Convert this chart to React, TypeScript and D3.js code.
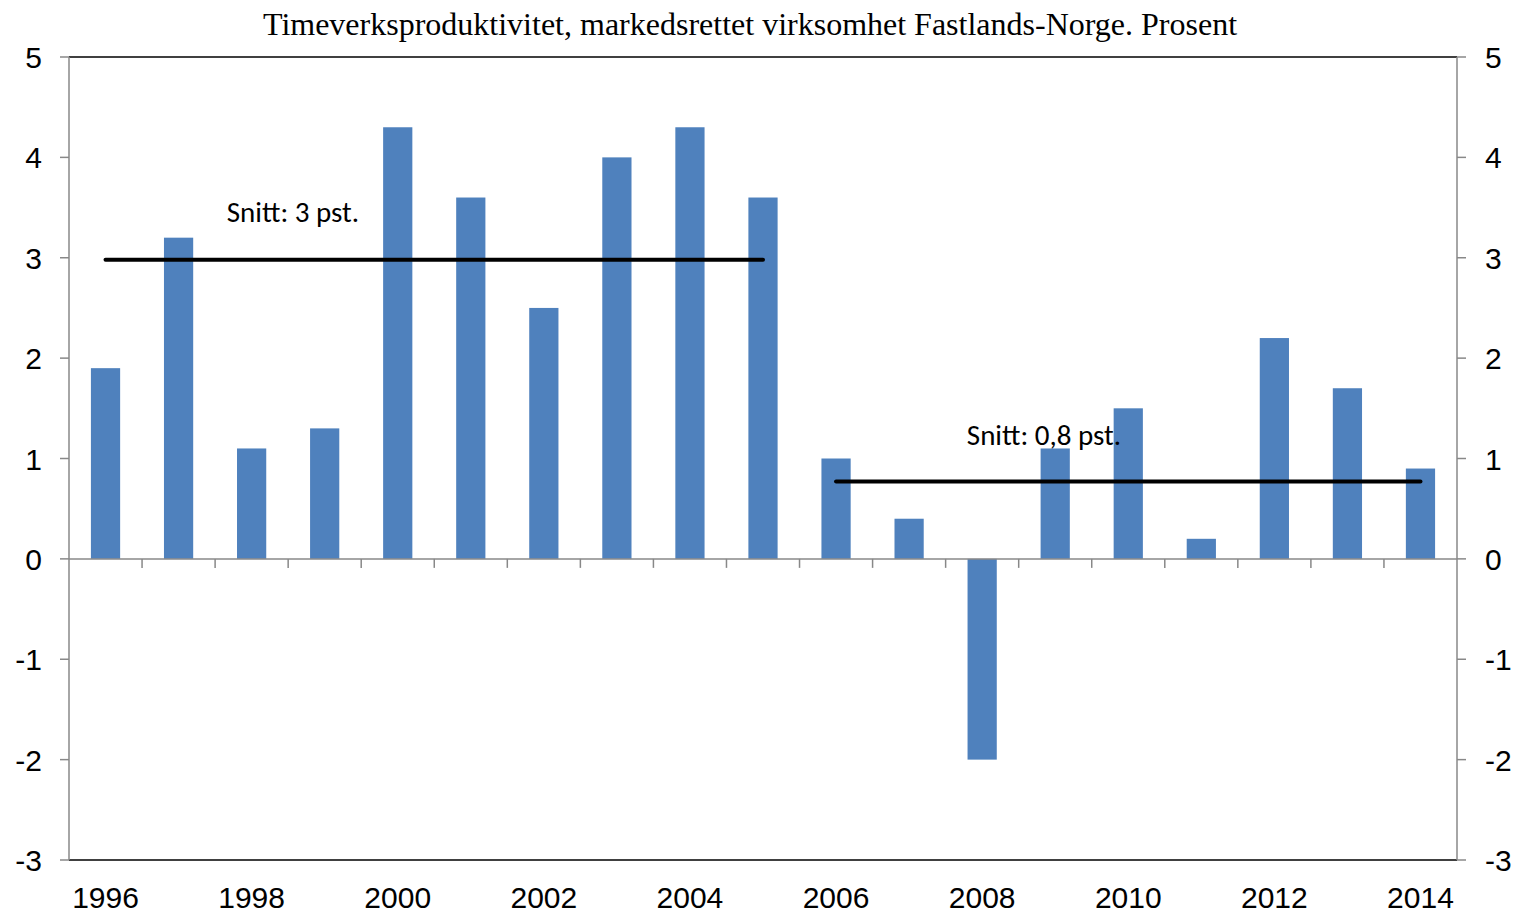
import React from "react";
import * as d3 from "d3";

const years = [
  "1996", "1997", "1998", "1999", "2000", "2001", "2002", "2003", "2004", "2005",
  "2006", "2007", "2008", "2009", "2010", "2011", "2012", "2013", "2014",
];
const values = [1.9, 3.2, 1.1, 1.3, 4.3, 3.6, 2.5, 4.0, 4.3, 3.6, 1.0, 0.4, -2.0, 1.1, 1.5, 0.2, 2.2, 1.7, 0.9];
const yTicks = [5, 4, 3, 2, 1, 0, -1, -2, -3];

// average lines: from year, to year, value; label anchored at a (fractional) year index and value
const averages = [
  { from: "1996", to: "2005", value: 2.98, label: "Snitt: 3 pst.", labelIdx: 1.66, labelValue: 3.36 },
  { from: "2006", to: "2014", value: 0.77, label: "Snitt: 0,8 pst.", labelIdx: 11.79, labelValue: 1.135 },
];

const title = "Timeverksproduktivitet, markedsrettet virksomhet Fastlands-Norge. Prosent";

export default function App() {
  const width = 1515;
  const height = 913;
  const margin = { top: 57, right: 58, bottom: 53, left: 69 };

  const x = d3
    .scaleBand()
    .domain(years)
    .range([margin.left, width - margin.right])
    .paddingInner(0.6)
    .paddingOuter(0.3);
  const band = d3.scaleBand().domain(years).range([margin.left, width - margin.right]);
  const y = d3.scaleLinear().domain([-3, 5]).range([height - margin.bottom, margin.top]);
  const xi = d3
    .scaleLinear()
    .domain([-0.5, years.length - 0.5])
    .range([margin.left, width - margin.right]);

  const x0 = margin.left;
  const x1 = width - margin.right;
  const cx = (yr: string) => (band(yr) as number) + band.bandwidth() / 2;
  const sans = "Liberation Sans, Arial, sans-serif";

  return (
    <svg width={width} height={height} style={{ position: "absolute", left: 0, top: 0 }}>
      <rect width={width} height={height} fill="#fff" />
      <text
        x={750}
        y={35}
        textAnchor="middle"
        fontFamily="Liberation Serif, Times New Roman, serif"
        fontSize={32}
      >
        {title}
      </text>

      {/* bars */}
      {years.map((yr, i) => (
        <rect
          key={yr}
          x={x(yr)}
          width={x.bandwidth()}
          y={y(Math.max(0, values[i]))}
          height={Math.abs(y(values[i]) - y(0))}
          fill="#4F81BD"
        />
      ))}

      {/* frame top/bottom */}
      <line x1={x0} x2={x1} y1={y(5)} y2={y(5)} stroke="#000" strokeWidth={1.5} />
      <line x1={x0} x2={x1} y1={y(-3)} y2={y(-3)} stroke="#000" strokeWidth={1.5} />

      {/* zero axis */}
      <line x1={x0} x2={x1} y1={y(0)} y2={y(0)} stroke="#888" strokeWidth={1.5} />
      {years.slice(1).map((yr) => (
        <line
          key={yr}
          x1={band(yr)}
          x2={band(yr)}
          y1={y(0)}
          y2={y(0) + 9}
          stroke="#888"
          strokeWidth={1.5}
        />
      ))}

      {/* left and right axes */}
      <line x1={x0} x2={x0} y1={y(5)} y2={y(-3)} stroke="#888" strokeWidth={1.5} />
      <line x1={x1} x2={x1} y1={y(5)} y2={y(-3)} stroke="#888" strokeWidth={1.5} />
      {yTicks.map((t) => (
        <g key={t}>
          <line x1={x0 - 9} x2={x0} y1={y(t)} y2={y(t)} stroke="#888" strokeWidth={1.5} />
          <line x1={x1} x2={x1 + 9} y1={y(t)} y2={y(t)} stroke="#888" strokeWidth={1.5} />
          <text x={42} y={y(t) + 11} textAnchor="end" fontFamily={sans} fontSize={30}>
            {t}
          </text>
          <text x={1485} y={y(t) + 11} textAnchor="start" fontFamily={sans} fontSize={30}>
            {t}
          </text>
        </g>
      ))}

      {/* x labels */}
      {years.map((yr, i) =>
        i % 2 === 0 ? (
          <text key={yr} x={cx(yr)} y={908} textAnchor="middle" fontFamily={sans} fontSize={30}>
            {yr}
          </text>
        ) : null
      )}

      {/* average lines */}
      {averages.map((a) => (
        <g key={a.label}>
          <line
            x1={cx(a.from)}
            x2={cx(a.to)}
            y1={y(a.value)}
            y2={y(a.value)}
            stroke="#000"
            strokeWidth={4}
            strokeLinecap="round"
          />
          <text
            x={xi(a.labelIdx)}
            y={y(a.labelValue)}
            fontFamily="Carlito, Open Sans, Lato, sans-serif"
            fontSize={29}
          >
            {a.label}
          </text>
        </g>
      ))}
    </svg>
  );
}
